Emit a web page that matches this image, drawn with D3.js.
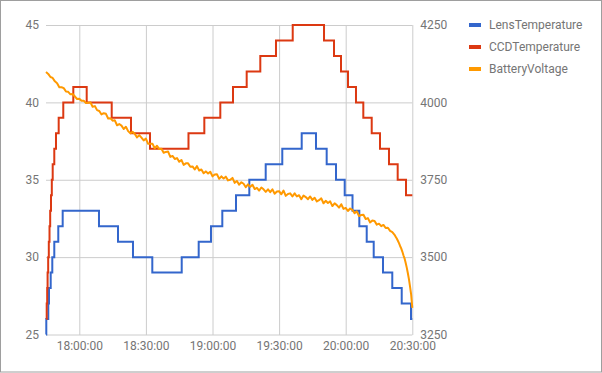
<!DOCTYPE html>
<html>
<head>
<meta charset="utf-8">
<script src="https://cdn.jsdelivr.net/npm/d3@7"></script>
<style>
  body { margin: 0; background: #fff; }
  text { font-family: Roboto, Arial, sans-serif; }
</style>
</head>
<body>
<div id="container"></div>
<script>
/* CONSTANTS AND GLOBALS */
const width = 602,
  height = 373,
  margin = { top: 25, bottom: 38, left: 46, right: 189.7 };

const parseTime = d3.timeParse("%H:%M:%S");

/* DATA */
// x axis ticks
const timeTicks = ["18:00:00", "18:30:00", "19:00:00", "19:30:00", "20:00:00", "20:30:00"];
const tempTicks = [25, 30, 35, 40, 45];
const voltTicks = [3250, 3500, 3750, 4000, 4250];

// LensTemperature, step changes
const lensTimes = ["17:45:00", "17:45:08", "17:46:02", "17:46:21", "17:47:07", "17:47:50", "17:48:44", "17:50:32",
  "17:52:31", "18:08:52", "18:17:26", "18:24:11", "18:32:53", "18:46:08", "18:53:47", "18:59:19", "19:04:25",
  "19:10:35", "19:16:35", "19:23:58", "19:31:26", "19:40:11", "19:46:37", "19:51:26", "19:55:38", "19:59:33",
  "20:03:04", "20:06:08", "20:09:28", "20:12:37", "20:16:48", "20:20:59", "20:25:14", "20:29:25", "20:30:00"];
const lensValues = [25, 26, 27, 28, 29, 30, 31, 32,
  33, 32, 31, 30, 29, 30, 31, 32, 33,
  34, 35, 36, 37, 38, 37, 36, 35, 34,
  33, 32, 31, 30, 29, 28, 27, 26, 26];

// CCDTemperature, step changes
const ccdTimes = ["17:45:10", "17:45:19", "17:45:32", "17:45:43", "17:45:59", "17:46:16", "17:46:35", "17:46:53",
  "17:47:15", "17:47:37", "17:48:01", "17:48:44", "17:49:30", "17:50:43", "17:52:47", "17:57:18", "18:03:20",
  "18:14:36", "18:23:17", "18:31:51", "18:49:11", "18:56:19", "19:03:31", "19:09:14", "19:15:24", "19:21:32",
  "19:28:36", "19:36:08", "19:50:14", "19:54:44", "19:57:53", "20:01:02", "20:04:38", "20:07:56", "20:11:43",
  "20:15:27", "20:19:30", "20:23:25", "20:27:10", "20:30:00"];
const ccdValues = [26, 27, 28, 29, 30, 31, 32, 33,
  34, 35, 36, 37, 38, 39, 40, 41, 40,
  39, 38, 37, 38, 39, 40, 41, 42, 43,
  44, 45, 44, 43, 42, 41, 40, 39, 38,
  37, 36, 35, 34, 34];

// BatteryVoltage, one reading per minute from 17:45:00
const batteryStart = "17:45:00";
const batteryValues = [
  4098, 4092, 4082, 4079, 4068, 4062, 4049, 4049, 4046, 4035,
  4034, 4026, 4027, 4019, 4011, 4012, 4005, 4005, 3998, 3999,
  4000, 3986, 3988, 3975, 3972, 3961, 3965, 3963, 3948, 3949,
  3941, 3942, 3926, 3930, 3925, 3914, 3921, 3907, 3900, 3905,
  3898, 3887, 3894, 3886, 3877, 3883, 3866, 3866, 3866, 3851,
  3860, 3849, 3850, 3837, 3840, 3841, 3824, 3827, 3817, 3820,
  3808, 3814, 3798, 3803, 3803, 3792, 3793, 3783, 3794, 3780,
  3783, 3771, 3777, 3770, 3776, 3761, 3767, 3768, 3753, 3761,
  3754, 3760, 3748, 3750, 3756, 3740, 3746, 3734, 3742, 3737,
  3726, 3735, 3727, 3734, 3720, 3724, 3715, 3725, 3719, 3711,
  3719, 3710, 3719, 3705, 3712, 3713, 3703, 3715, 3698, 3704,
  3706, 3696, 3706, 3696, 3700, 3687, 3699, 3694, 3687, 3696,
  3685, 3692, 3680, 3684, 3690, 3674, 3682, 3675, 3680, 3665,
  3674, 3668, 3660, 3671, 3656, 3659, 3649, 3657, 3653, 3642,
  3648, 3633, 3636, 3637, 3623, 3626, 3612, 3618, 3617, 3605,
  3608, 3600, 3604, 3594, 3595, 3585, 3581];
// end of the run, the voltage falls off quickly
const batteryTailTimes = ["20:22:00", "20:22:30", "20:23:00", "20:23:30", "20:24:00", "20:24:30", "20:25:00",
  "20:25:30", "20:26:00", "20:26:30", "20:27:00", "20:27:30", "20:28:00", "20:28:30", "20:29:00", "20:29:30", "20:30:00"];
const batteryTailValues = [3572, 3566, 3560, 3553, 3545, 3536, 3528, 3518, 3506, 3496, 3482, 3466, 3448, 3428,
  3404, 3378, 3336];

const seriesNames = ["LensTemperature", "CCDTemperature", "BatteryVoltage"];
const seriesColors = ["#3366cc", "#dc3912", "#ff9900"];

/* BUILD ROWS */
const lensData = lensTimes.map((t, i) => ({ time: parseTime(t), value: lensValues[i] }));
const ccdData = ccdTimes.map((t, i) => ({ time: parseTime(t), value: ccdValues[i] }));
const batteryData = batteryValues.map((v, i) => ({ time: d3.timeMinute.offset(parseTime(batteryStart), i), value: v }))
  .concat(batteryTailTimes.map((t, i) => ({ time: parseTime(t), value: batteryTailValues[i] })));

/* SCALES */
const plotW = width - margin.left - margin.right,
  plotH = height - margin.top - margin.bottom;

const xScale = d3.scaleTime()
  .domain([parseTime("17:45:00"), parseTime("20:30:00")])
  .range([0, plotW]);

const yLeft = d3.scaleLinear()
  .domain([25, 45])
  .range([plotH - 0.5, 0]);

const yRight = d3.scaleLinear()
  .domain([3250, 4250])
  .range([plotH - 0.5, 0]);

/* DRAW */
const svg = d3.select("#container")
  .append("svg")
  .attr("width", width)
  .attr("height", height);

// outer frame
svg.append("rect")
  .attr("x", 0.5).attr("y", 0.5)
  .attr("width", width - 1).attr("height", height - 1.5)
  .attr("fill", "#fff")
  .attr("stroke", "#9e9e9e");

const g = svg.append("g")
  .attr("transform", `translate(${margin.left},${margin.top})`);

// horizontal gridlines
g.append("g")
  .call(d3.axisLeft(yLeft).tickValues(tempTicks).tickSize(-plotW).tickFormat(""))
  .call(a => a.select(".domain").remove())
  .call(a => a.selectAll("line").attr("stroke", "#cccccc"));

// vertical gridlines
g.append("g")
  .attr("transform", `translate(0,${plotH})`)
  .call(d3.axisBottom(xScale).tickValues(timeTicks.map(parseTime)).tickSize(-plotH).tickFormat(""))
  .call(a => a.select(".domain").remove())
  .call(a => a.selectAll("line").attr("stroke", "#cccccc"));

// left axis labels
g.append("g")
  .call(d3.axisLeft(yLeft).tickValues(tempTicks).tickSize(0).tickPadding(7))
  .call(a => a.select(".domain").remove())
  .call(a => a.selectAll("text").attr("fill", "#757575").style("font-size", "12px"));

// right axis labels
g.append("g")
  .attr("transform", `translate(${plotW},0)`)
  .call(d3.axisRight(yRight).tickValues(voltTicks).tickSize(0).tickPadding(8).tickFormat(d3.format("d")))
  .call(a => a.select(".domain").remove())
  .call(a => a.selectAll("text").attr("fill", "#757575").style("font-size", "12px"));

// bottom axis labels
g.append("g")
  .attr("transform", `translate(0,${plotH})`)
  .call(d3.axisBottom(xScale).tickValues(timeTicks.map(parseTime)).tickSize(0).tickPadding(6)
    .tickFormat(d3.timeFormat("%H:%M:%S")))
  .call(a => a.select(".domain").remove())
  .call(a => a.selectAll("text").attr("fill", "#757575").style("font-size", "12px"));

// lines
const stepLine = d3.line()
  .x(d => xScale(d.time))
  .y(d => yLeft(d.value))
  .curve(d3.curveStepAfter);

const voltLine = d3.line()
  .x(d => xScale(d.time))
  .y(d => yRight(d.value));

g.append("path")
  .datum(lensData)
  .attr("fill", "none")
  .attr("stroke", seriesColors[0])
  .attr("stroke-width", 2)
  .attr("d", stepLine);

g.append("path")
  .datum(ccdData)
  .attr("fill", "none")
  .attr("stroke", seriesColors[1])
  .attr("stroke-width", 2)
  .attr("d", stepLine);

g.append("path")
  .datum(batteryData)
  .attr("fill", "none")
  .attr("stroke", seriesColors[2])
  .attr("stroke-width", 2)
  .attr("stroke-linejoin", "round")
  .attr("d", voltLine);

// legend
const legend = svg.append("g")
  .attr("transform", "translate(469,25)");

const item = legend.selectAll("g")
  .data(seriesNames)
  .join("g")
  .attr("transform", (d, i) => `translate(0,${i * 22})`);

item.append("rect")
  .attr("x", 0).attr("y", -2)
  .attr("width", 12).attr("height", 4)
  .attr("fill", (d, i) => seriesColors[i]);

item.append("text")
  .attr("x", 20)
  .attr("dy", "0.35em")
  .attr("fill", "#757575")
  .style("font-size", "12px")
  .text(d => d);
</script>
</body>
</html>
